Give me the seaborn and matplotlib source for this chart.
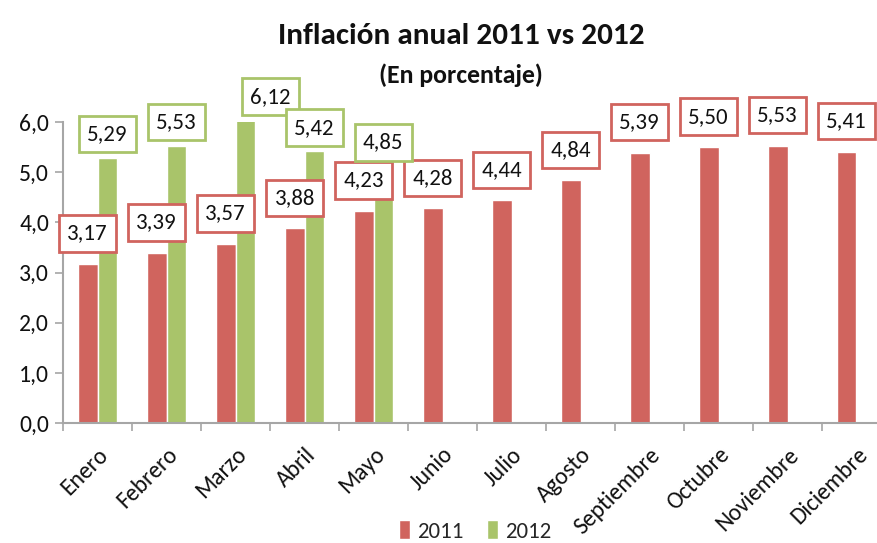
import matplotlib.pyplot as plt
import numpy as np
import pandas as pd
import seaborn as sns
from matplotlib.patches import Patch

months = ["Enero", "Febrero", "Marzo", "Abril", "Mayo", "Junio", "Julio",
          "Agosto", "Septiembre", "Octubre", "Noviembre", "Diciembre"]
inf_2011 = [3.17, 3.39, 3.57, 3.88, 4.23, 4.28, 4.44, 4.84, 5.39, 5.50, 5.53, 5.41]
inf_2012 = [5.29, 5.53, 6.12, 5.42, 4.85]
years = ["2011", "2012"]

RED = "#D0645E"
GREEN = "#A9C46A"
GRAY = "#A6A6A6"

df = pd.DataFrame({
    "mes": months * 2,
    "anio": ["2011"] * 12 + ["2012"] * 12,
    "valor": inf_2011 + inf_2012 + [np.nan] * 7,
})

sns.set_theme(style="white")
plt.rcParams["font.family"] = ["Carlito", "Roboto Condensed", "DejaVu Sans"]

fig = plt.figure(figsize=(8.78, 5.43), dpi=100)
ax = fig.add_axes([0.0718, 0.221, 0.943, 0.554])

sns.barplot(data=df, x="mes", y="valor", hue="anio", hue_order=years,
            palette=[RED, GREEN], width=0.57, ax=ax, legend=False,
            saturation=1, errorbar=None)
ax.set_xlim(-0.5, 11.5)
ax.set_ylim(0, 6)
ax.set_xlabel("")
ax.set_ylabel("")

# etiquetas de valor (desplazamiento en puntos)
shift = {("2012", "Marzo"): (18, 14), ("2012", "Mayo"): (0, 27)}
for year, cont, color, dy in zip(years, ax.containers, [RED, GREEN], [22, 17]):
    sub = df[(df["anio"] == year) & df["valor"].notna()]
    for bar, (_, row) in zip(cont, sub.iterrows()):
        dx, ddy = shift.get((year, row["mes"]), (0, dy))
        ax.annotate(f"{row['valor']:.2f}".replace(".", ","),
                    xy=(bar.get_x() + bar.get_width() / 2, row["valor"]),
                    xytext=(dx, ddy), textcoords="offset points",
                    ha="center", va="center", fontsize=16.5, color="#111111",
                    annotation_clip=False,
                    bbox=dict(boxstyle="square,pad=0.36", fc="white",
                              ec=color, lw=2))

ax.set_yticks(np.arange(0, 6.1, 1))
ax.set_yticklabels([f"{v:.1f}".replace(".", ",") for v in np.arange(0, 6.1, 1)],
                   fontsize=17, color="#111111")
ax.set_xticks(range(12))
ax.set_xticklabels(months, rotation=45, ha="right", rotation_mode="anchor",
                   fontsize=17, color="#111111")
ax.set_xticks(np.arange(-0.5, 12, 1), minor=True)
ax.tick_params(axis="x", which="major", length=0, pad=15)
ax.tick_params(axis="x", which="minor", length=6, color=GRAY, width=1.2,
               direction="out", bottom=True)
ax.tick_params(axis="y", length=6, color=GRAY, width=1.2, direction="out",
               left=True, pad=4)
for side in ["top", "right"]:
    ax.spines[side].set_visible(False)
for side in ["left", "bottom"]:
    ax.spines[side].set_color(GRAY)
    ax.spines[side].set_linewidth(1.5)

fig.text(0.525, 0.934, "Inflación anual 2011 vs 2012", ha="center",
         va="center", fontsize=22.5, fontweight="bold", color="#111111")
fig.text(0.525, 0.862, "(En porcentaje)", ha="center", va="center",
         fontsize=18.5, fontweight="bold", color="#111111")

handles = [Patch(facecolor=RED, label="2011"), Patch(facecolor=GREEN, label="2012")]
fig.legend(handles=handles, loc="center", bbox_to_anchor=(0.541, 0.022),
           ncol=2, frameon=False, fontsize=16.5, handlelength=0.5,
           handleheight=0.9, handletextpad=0.3, columnspacing=1.0)

fig.savefig("out.png", dpi=100)
